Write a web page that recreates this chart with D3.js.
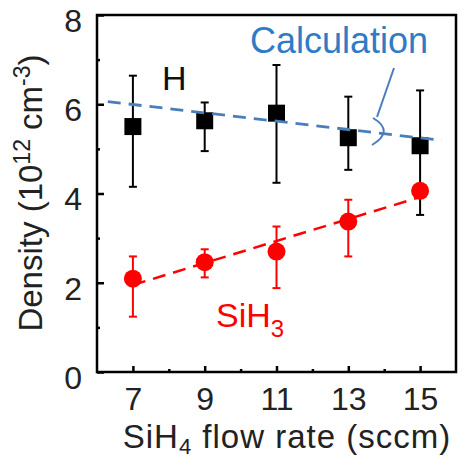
<!DOCTYPE html>
<html><head><meta charset="utf-8">
<script src="https://cdn.jsdelivr.net/npm/d3@7"></script>
<style>body{margin:0;background:#fff}svg{display:block;font-family:"Liberation Sans",Arial,sans-serif}</style>
</head><body>
<svg id="c" width="471" height="472"></svg>
<script>
const flowRates = [7, 9, 11, 13, 15];
const hDensity = [5.50, 5.63, 5.80, 5.25, 5.07];
const hErrLow = [4.15, 4.95, 4.24, 4.53, 3.52];
const hErrHigh = [6.64, 6.04, 6.88, 6.17, 6.31];
const siH3Density = [2.09, 2.46, 2.70, 3.37, 4.06];
const siH3ErrLow = [1.24, 2.12, 1.88, 2.59, null];
const siH3ErrHigh = [2.59, 2.75, 3.26, 3.86, null];
const calcH = [[6.3, 6.06], [15.6, 5.19]];
const calcSiH3 = [[7, 1.95], [15, 3.92]];
const yTicks = [0, 2, 4, 6, 8];
const yMinor = [1, 3, 5, 7];
const xMinor = [8, 10, 12, 14];

const svg = d3.select("#c");
const x = d3.scaleLinear().domain([6, 16]).range([97, 456]);
const y = d3.scaleLinear().domain([0, 8]).range([372, 15]);
const blue = "#4a7ebb", textBlue = "#2f7bc4", red = "#ff0000";

// axes (inward ticks)
const ax = svg.append("g").attr("transform", `translate(${x.range()[0]},0)`)
  .call(d3.axisLeft(y).tickValues(yTicks).tickSize(-7).tickPadding(15).tickFormat(d3.format("d")));
ax.select(".domain").remove();
ax.selectAll("line").attr("stroke", "#000").attr("stroke-width", 2.5);
ax.selectAll("text").attr("font-size", 32).attr("fill", "#222").attr("dy", "0.32em")
  .attr("transform", "translate(0,6)");
const axm = svg.append("g").attr("transform", `translate(${x.range()[0]},0)`)
  .call(d3.axisLeft(y).tickValues(yMinor).tickSize(-3).tickFormat(""));
axm.select(".domain").remove();
axm.selectAll("line").attr("stroke", "#000").attr("stroke-width", 2.5);

const bx = svg.append("g").attr("transform", `translate(0,${y.range()[0]})`)
  .call(d3.axisBottom(x).tickValues(flowRates).tickSize(-6).tickPadding(15).tickFormat(d3.format("d")));
bx.select(".domain").remove();
bx.selectAll("line").attr("stroke", "#000").attr("stroke-width", 2.5);
bx.selectAll("text").attr("font-size", 32).attr("fill", "#222");
const bxm = svg.append("g").attr("transform", `translate(0,${y.range()[0]})`)
  .call(d3.axisBottom(x).tickValues(xMinor).tickSize(-3).tickFormat(""));
bxm.select(".domain").remove();
bxm.selectAll("line").attr("stroke", "#000").attr("stroke-width", 2.5);

// frame
svg.append("rect").attr("x", x(6)).attr("y", y(8)).attr("width", x(16) - x(6)).attr("height", y(0) - y(8))
  .attr("fill", "none").attr("stroke", "#000").attr("stroke-width", 2.5);

const line = d3.line().x(d => x(d[0])).y(d => y(d[1]));

// SiH3 calculation line (behind markers)
svg.append("path").attr("d", line(calcSiH3)).attr("fill", "none").attr("stroke", red)
  .attr("stroke-width", 2.5).attr("stroke-dasharray", "13,8");

// error bars
function errBars(lo, hi, color) {
  const g = svg.append("g").attr("stroke", color).attr("stroke-width", 2);
  flowRates.forEach((f, i) => {
    if (lo[i] == null) return;
    g.append("line").attr("x1", x(f)).attr("x2", x(f)).attr("y1", y(lo[i])).attr("y2", y(hi[i]));
    g.append("line").attr("x1", x(f) - 4).attr("x2", x(f) + 4).attr("y1", y(lo[i])).attr("y2", y(lo[i]));
    g.append("line").attr("x1", x(f) - 4).attr("x2", x(f) + 4).attr("y1", y(hi[i])).attr("y2", y(hi[i]));
  });
}
errBars(siH3ErrLow, siH3ErrHigh, red);
errBars(hErrLow, hErrHigh, "#000");

svg.append("g").selectAll("circle").data(flowRates).join("circle")
  .attr("cx", d => x(d)).attr("cy", (d, i) => y(siH3Density[i])).attr("r", 9).attr("fill", red);
svg.append("g").selectAll("rect").data(flowRates).join("rect")
  .attr("x", d => x(d) - 8.5).attr("y", (d, i) => y(hDensity[i]) - 8.5)
  .attr("width", 17).attr("height", 17).attr("fill", "#000");

// H calculation line (on top)
svg.append("path").attr("d", line(calcH)).attr("fill", "none").attr("stroke", blue)
  .attr("stroke-width", 2.8).attr("stroke-dasharray", "13,8");

// callout
svg.append("path").attr("d", "M394,68 L377,117").attr("fill", "none").attr("stroke", blue).attr("stroke-width", 2);
svg.append("path").attr("d", "M373,118 Q395,131 372,145").attr("fill", "none").attr("stroke", blue).attr("stroke-width", 2);
svg.append("text").attr("x", 250).attr("y", 53).attr("font-size", 36).attr("fill", textBlue).text("Calculation");

// labels
svg.append("text").attr("x", 162).attr("y", 90).attr("font-size", 34).attr("fill", "#111").text("H");
const st = svg.append("text").attr("x", 216).attr("y", 327).attr("font-size", 34).attr("fill", red);
st.append("tspan").text("SiH");
st.append("tspan").attr("font-size", 24).attr("dy", 10).text("3");

// axis titles
const xt = svg.append("text").attr("x", 287).attr("y", 448).attr("text-anchor", "middle").attr("font-size", 33)
  .attr("letter-spacing", 1).attr("fill", "#222");
xt.append("tspan").text("SiH");
xt.append("tspan").attr("font-size", 22).attr("dy", 6).text("4");
xt.append("tspan").attr("dy", -6).text(" flow rate (sccm)");

const yt = svg.append("text").attr("transform", "translate(42,193) rotate(-90)").attr("text-anchor", "middle")
  .attr("font-size", 33).attr("fill", "#222");
yt.append("tspan").text("Density (10");
yt.append("tspan").attr("font-size", 23).attr("dy", -12).text("12");
yt.append("tspan").attr("dy", 12).text(" cm");
yt.append("tspan").attr("font-size", 23).attr("dy", -12).text("-3");
yt.append("tspan").attr("dy", 12).text(")");
</script>
</body></html>
